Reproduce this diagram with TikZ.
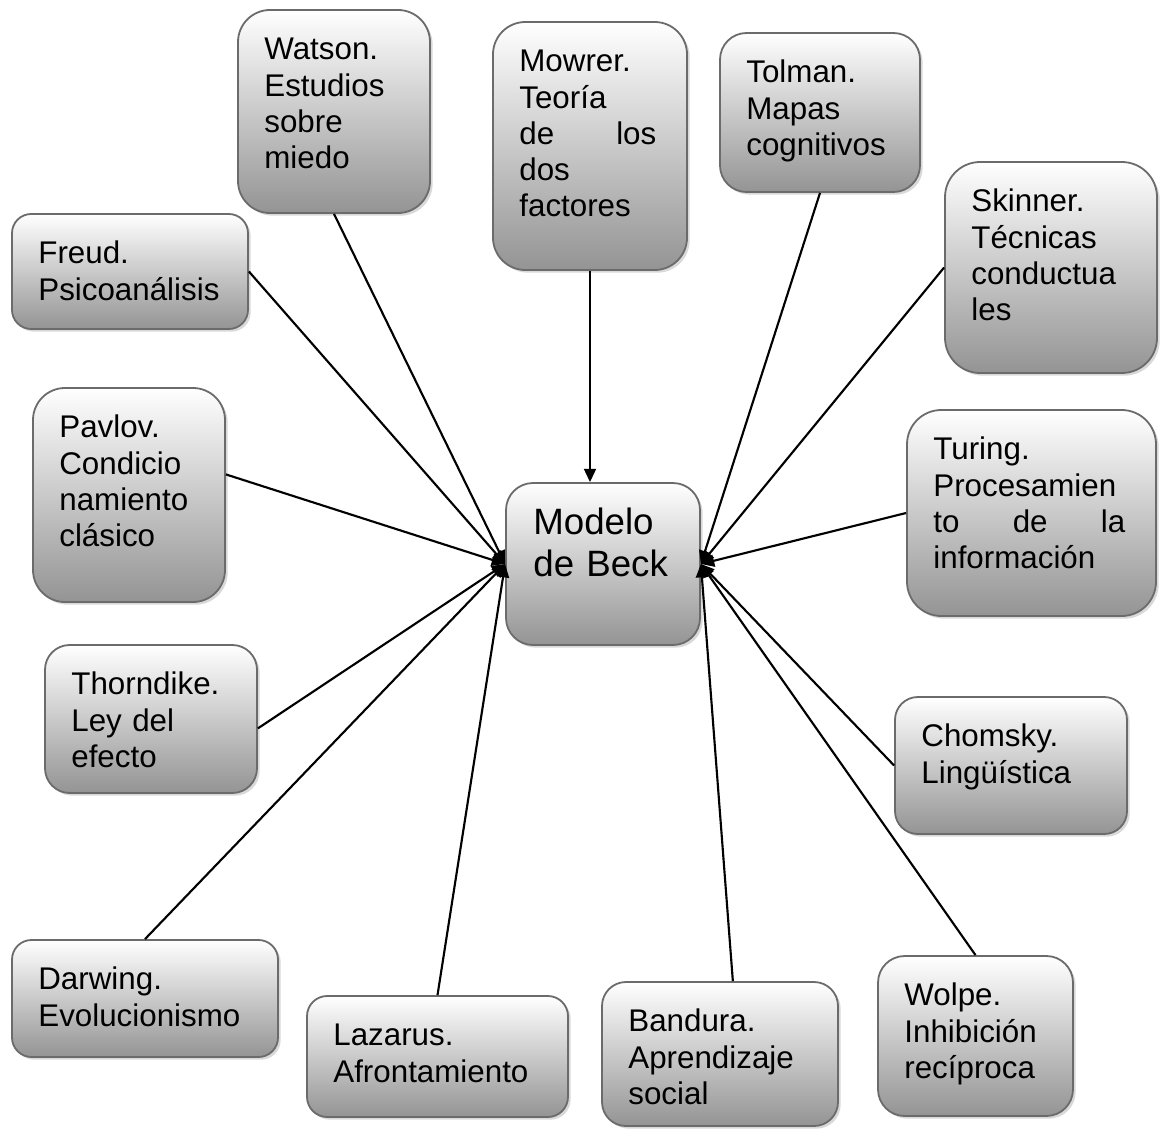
\documentclass[tikz,border=0pt]{standalone}
\usepackage{fontspec}
\setmainfont{Liberation Sans}
\usetikzlibrary{arrows.meta,shadows}
\hyphenpenalty=10000
\tikzset{
  ideabox/.style={draw=black!58,line width=1.35pt,top color=white,bottom color=black!42,
    drop shadow={shadow xshift=2pt,shadow yshift=-2pt,opacity=0.3},inner sep=0pt},
  ideatext/.style={anchor=north west,inner sep=0pt,align=left,text width=#1,
    font=\fontsize{23.5}{27.2}\selectfont,execute at begin node=\strut},
  linkArrow/.style={-{Triangle[length=10pt,width=9pt]},line width=1.6pt}
}
\begin{document}
\begin{tikzpicture}[x=0.75pt,y=-0.75pt]
  \useasboundingbox (0,0) rectangle (1160,1131);
  \foreach \n/\xa/\ya/\xb/\yb/\t in {
      watson/238/10/430/213/{Watson.\\Estudios\\sobre\\miedo},
      mowrer/493/22/687/270/{Mowrer.\\Teoría\\de\hfill los\\dos\\factores},
      tolman/720/33/920/192/{Tolman.\\Mapas\\cognitivos},
      skinner/945/162/1157/373/{Skinner.\\Técnicas\\conductua\\les},
      freud/12/214/248/329/{Freud.\\Psicoanálisis},
      pavlov/33/388/225/602/{Pavlov.\\Condicio\\namiento\\clásico},
      turing/907/410/1156/616/{Turing.\\Procesamien\\to\hfill de\hfill la\\información},
      thorndike/45/645/257/793/{Thorndike.\\Ley del\\efecto},
      chomsky/895/697/1127/834/{Chomsky.\\Lingüística},
      darwing/12/940/278/1057/{Darwing.\\Evolucionismo},
      lazarus/307/996/568/1117/{Lazarus.\\Afrontamiento},
      bandura/602/982/838/1126/{Bandura.\\Aprendizaje\\social},
      wolpe/878/956/1073/1116/{Wolpe.\\Inhibición\\recíproca}}
  {
    \pgfmathsetmacro\rad{min(\xb-\xa,\yb-\ya)/6*0.75}
    \pgfmathsetmacro\bw{(\xb-\xa)*0.75}
    \pgfmathsetmacro\bh{(\yb-\ya)*0.75}
    \pgfmathsetmacro\tw{(\xb-\xa-57)*0.75}
    \node[ideabox,rounded corners=\rad pt,minimum width=\bw pt,minimum height=\bh pt]
      (\n) at ({(\xa+\xb)/2},{(\ya+\yb)/2}) {};
    \node[ideatext=\tw pt] (\n-txt) at ([shift={(27,25)}]\n.north west) {\t};
  }
  \node[ideabox,rounded corners=20.25pt,minimum width=145.5pt,minimum height=121.5pt]
    (beck) at (603,564) {};
  \node[ideatext=110pt,font=\fontsize{27.5}{32}\selectfont] (beck-txt)
    at ([shift={(28,22)}]beck.north west) {Modelo\\de Beck};

  \draw[linkArrow] (mowrer.south) -- (mowrer.south |- beck.north);
  \foreach \s in {watson.south,freud.east,pavlov.12,thorndike.-5,darwing.north,lazarus.north}
    \draw[linkArrow] (\s) -- (beck.west);
  \foreach \s in {tolman.south,skinner.west,turing.west,chomsky.west,wolpe.north,bandura.80}
    \draw[linkArrow] (\s) -- (beck.east);
\end{tikzpicture}
\end{document}
